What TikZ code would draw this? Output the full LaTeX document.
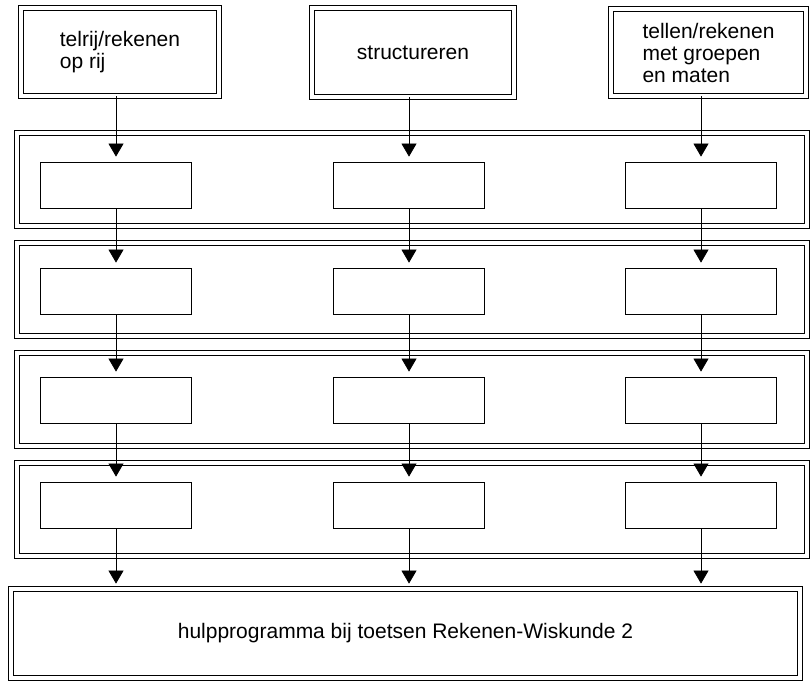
\documentclass[tikz,border=0pt]{standalone}
\usepackage{fontspec}
\setmainfont{Liberation Sans}
\usetikzlibrary{arrows.meta}
\begin{document}
\begin{tikzpicture}[x=1pt, y=-1pt,
        font=\fontsize{21}{22}\selectfont,
        dbox/.style={draw, double, double distance=4.5pt, line width=.8pt, inner sep=0pt},
        band/.style={dbox, minimum width=790pt, minimum height=93pt},
        cell/.style={draw, line width=.8pt, minimum width=151pt, minimum height=46pt},
        arr/.style={-{Triangle[width=15pt,length=13pt]}, line width=.7pt, shorten >=5pt}]
        \useasboundingbox (0,0) rectangle (810,686);

        \draw (120,52) node[dbox, minimum width=198pt, minimum height=88pt, align=left] (telrij) {telrij/rekenen\\op rij};
        \draw (413,52.5) node[dbox, minimum width=202pt, minimum height=89pt] (struct) {structureren};
        \draw (708.5,52.5) node[dbox, minimum width=195pt, minimum height=87pt, align=left] (tellen) {tellen/rekenen\\met groepen\\en maten};

        \draw (412,179.5) node[band] (b1) {};
        \draw (412,289.5) node[band] (b2) {};
        \draw (412,399.5) node[band] (b3) {};
        \draw (412,509.5) node[band] (b4) {};

        \draw (116,185) node[cell] (r11) {};
        \draw (409,185) node[cell] (r12) {};
        \draw (701,185) node[cell] (r13) {};
        \draw (116,291) node[cell] (r21) {};
        \draw (409,291) node[cell] (r22) {};
        \draw (701,291) node[cell] (r23) {};
        \draw (116,400) node[cell] (r31) {};
        \draw (409,400) node[cell] (r32) {};
        \draw (701,400) node[cell] (r33) {};
        \draw (116,505) node[cell] (r41) {};
        \draw (409,505) node[cell] (r42) {};
        \draw (701,505) node[cell] (r43) {};

        \draw (405.5,633.5) node[dbox, minimum width=789pt, minimum height=89pt] (hulp) {hulpprogramma bij toetsen Rekenen-Wiskunde 2};

        \draw[arr] (r11 |- telrij.south) -- (r11);
        \draw[arr] (r12 |- struct.south) -- (r12);
        \draw[arr] (r13 |- tellen.south) -- (r13);
        \draw[arr] (r11) -- (r21);
        \draw[arr] (r12) -- (r22);
        \draw[arr] (r13) -- (r23);
        \draw[arr] (r21) -- (r31);
        \draw[arr] (r22) -- (r32);
        \draw[arr] (r23) -- (r33);
        \draw[arr] (r31) -- (r41);
        \draw[arr] (r32) -- (r42);
        \draw[arr] (r33) -- (r43);
        \draw[arr] (r41) -- (r41 |- hulp.north);
        \draw[arr] (r42) -- (r42 |- hulp.north);
        \draw[arr] (r43) -- (r43 |- hulp.north);
    \end{tikzpicture}
\end{document}
